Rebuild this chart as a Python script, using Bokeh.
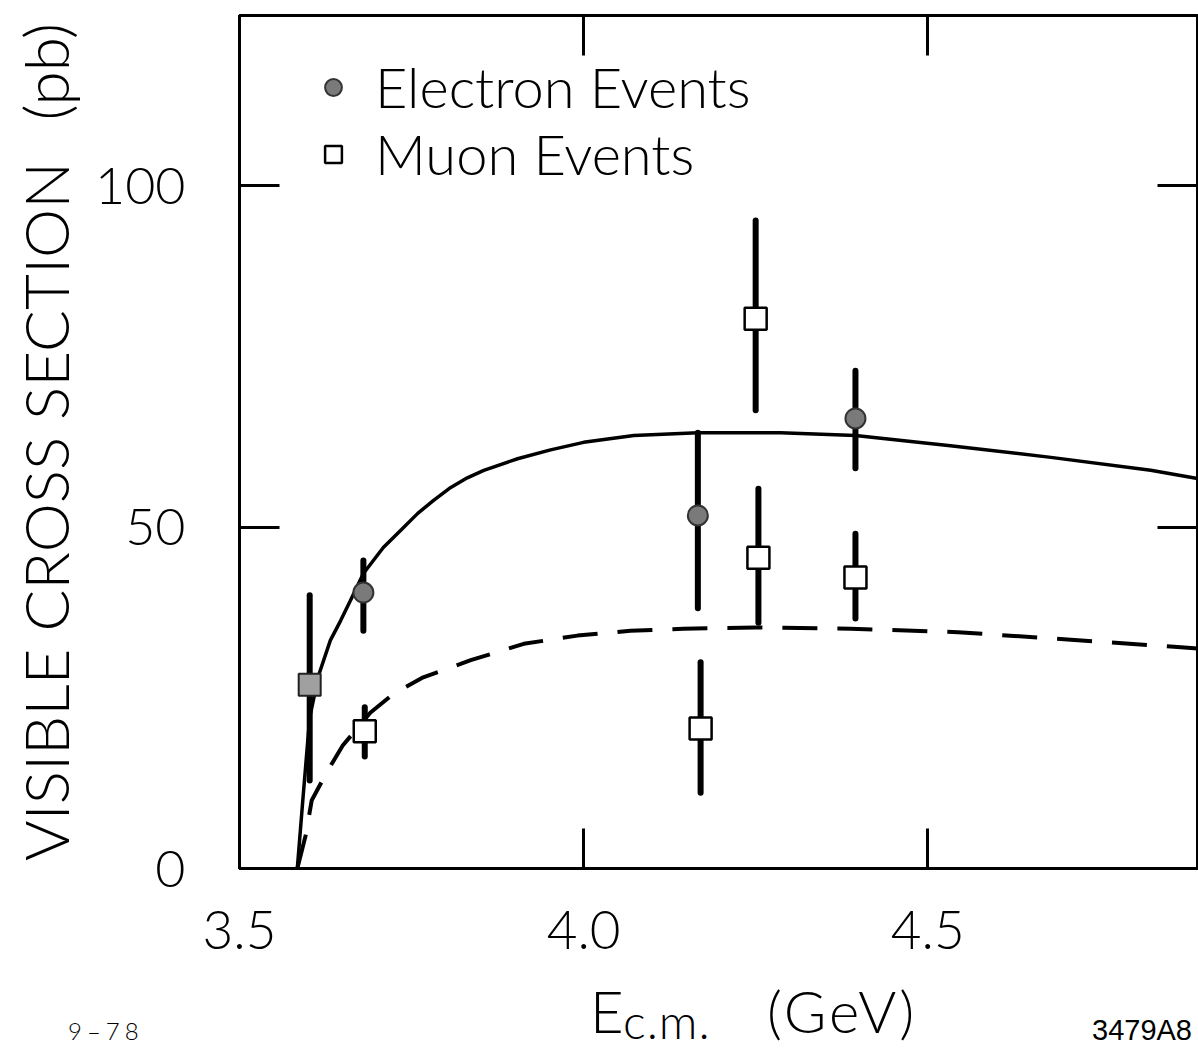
from bokeh.plotting import figure
from bokeh.layouts import column
from bokeh.models import Range1d, FixedTicker, LinearAxis, Legend, LegendItem, Div
from bokeh.embed import file_html
from bokeh.resources import INLINE

# ---- data ----
x_ticks = [3.5, 4.0, 4.5]
x_tick_labels = ["3.5", "4.0", "4.5"]
y_ticks = [0, 50, 100]
y_tick_labels = ["0", "50", "100"]

y_title = "VISIBLE CROSS SECTION\u00a0\u00a0\u2009(pb)"
x_title_parts = ["E", "c.m.", "(GeV)"]
notes = ["9\u201378", "3479A8"]

curve_solid_x = [3.584, 3.592, 3.602, 3.615, 3.632, 3.647, 3.661, 3.680, 3.709, 3.734,
                 3.759, 3.782, 3.807, 3.831, 3.855, 3.904, 3.952, 4.000, 4.073, 4.166,
                 4.286, 4.395, 4.533, 4.679, 4.824, 4.892]
curve_solid_y = [0.0, 10.0, 22.1, 28.3, 33.4, 36.3, 39.2, 43.2, 47.0, 49.5,
                 52.0, 53.9, 55.8, 57.2, 58.3, 60.0, 61.3, 62.4, 63.4, 63.8,
                 63.8, 63.4, 61.9, 60.2, 58.3, 57.1]

curve_dashed_x = [3.584, 3.596, 3.605, 3.628, 3.650, 3.690, 3.724, 3.767, 3.836, 3.913,
                  3.991, 4.068, 4.145, 4.250, 4.388, 4.544, 4.708, 4.868, 4.892]
curve_dashed_y = [0.0, 4.8, 10.0, 14.3, 18.0, 22.8, 25.6, 28.0, 30.5, 32.9,
                  34.1, 34.8, 35.1, 35.3, 35.1, 34.6, 33.5, 32.4, 32.2]

electron_x = [3.680, 4.166, 4.395]
electron_y = [40.4, 51.7, 65.9]
electron_lo = [34.8, 38.1, 58.6]
electron_hi = [45.1, 63.8, 72.9]

muon_x = [3.682, 4.170, 4.250, 4.254, 4.395]
muon_y = [20.1, 20.5, 80.5, 45.5, 42.6]
muon_lo = [16.4, 11.1, 67.1, 36.0, 36.6]
muon_hi = [23.6, 30.2, 94.9, 55.6, 49.0]

both_x = [3.602]
both_y = [26.9]
both_lo = [12.9]
both_hi = [40.0]

FONT = "Lato Light"

p = figure(width=1198, height=974,
           x_range=Range1d(3.5, 4.892), y_range=Range1d(0, 124.9),
           output_backend="svg", toolbar_location=None,
           min_border_left=239, min_border_right=1, min_border_top=15, min_border_bottom=106)
p.grid.visible = False
p.outline_line_color = "black"
p.outline_line_width = 3
p.background_fill_color = "white"
p.border_fill_color = "white"


def style_axis(ax, ticks, labels, size="52px"):
    ax.ticker = FixedTicker(ticks=ticks)
    ax.major_tick_in = 40
    ax.major_tick_out = 0
    ax.minor_tick_in = 0
    ax.minor_tick_out = 0
    ax.major_tick_line_width = 3
    ax.major_tick_line_color = "black"
    ax.axis_line_width = 3
    ax.axis_line_color = "black"
    ax.major_label_text_font = FONT
    ax.major_label_text_color = "black"
    ax.major_label_text_font_size = size
    ax.major_label_overrides = {t: l for t, l in zip(ticks, labels)}


style_axis(p.xaxis[0], x_ticks, x_tick_labels, "53px")
p.xaxis[0].major_label_standoff = 42
style_axis(p.yaxis[0], y_ticks, y_tick_labels)
p.yaxis[0].major_label_standoff = 54
p.yaxis[0].axis_label = y_title
p.yaxis[0].axis_label_text_font = FONT
p.yaxis[0].axis_label_text_font_size = "62px"
p.yaxis[0].axis_label_text_font_style = "normal"
p.yaxis[0].axis_label_text_color = "black"
p.yaxis[0].axis_label_standoff = 10

top_ax = LinearAxis()
style_axis(top_ax, x_ticks, ["" for _ in x_ticks])
top_ax.major_label_standoff = 0
p.add_layout(top_ax, "above")
right_ax = LinearAxis()
style_axis(right_ax, y_ticks, ["" for _ in y_ticks])
right_ax.major_label_standoff = 0
p.add_layout(right_ax, "right")

# curves
p.line(curve_solid_x, curve_solid_y, line_color="black", line_width=3.5)
p.line(curve_dashed_x, curve_dashed_y, line_color="black", line_width=4, line_dash="35 20")

# error bars
for xs, lo, hi in [(electron_x, electron_lo, electron_hi),
                   (muon_x, muon_lo, muon_hi),
                   (both_x, both_lo, both_hi)]:
    p.segment(x0=xs, y0=lo, x1=xs, y1=hi, line_color="black", line_width=6, line_cap="round")

r_both = p.scatter(both_x, both_y, marker="square", size=22, fill_color="#a0a0a0",
                   line_color="#222222", line_width=2)
r_el = p.scatter(electron_x, electron_y, marker="circle", size=20, fill_color="#7a7a7a",
                 line_color="#333333", line_width=2)
r_mu = p.scatter(muon_x, muon_y, marker="square", size=22, fill_color="white",
                 line_color="black", line_width=2.5)

legend = Legend(items=[LegendItem(label="Electron Events", renderers=[r_el]),
                       LegendItem(label="Muon Events", renderers=[r_mu])],
                location=(63, 671), glyph_width=42, glyph_height=42, spacing=0,
                label_text_font=FONT, label_text_font_size="56px", label_text_color="black",
                label_standoff=21, padding=10, border_line_alpha=0, background_fill_alpha=0)
p.add_layout(legend, "center")

# strip below the plot: x title (with subscript) and the figure notes
STRIP_H = 76


def span(text, left, baseline, size, family="'Lato Light', Lato, sans-serif",
         asc=0.987, spacing=0):
    top = baseline - asc * size
    return (f'<span style="position:absolute;left:{left}px;top:{top:.1f}px;'
            f'font-family:{family};font-size:{size}px;line-height:normal;'
            f'letter-spacing:{spacing}px;white-space:nowrap;color:black;">{text}</span>')


html = (f'<div style="position:relative;width:1198px;height:{STRIP_H}px;">'
        + span(x_title_parts[0], 590, 59, 58)
        + span(x_title_parts[1], 623, 65, 48, spacing=1)
        + span(x_title_parts[2], 767, 59, 58, spacing=3)
        + span(notes[0], 68, 66, 24, spacing=5)
        + span(notes[1], 1092, 66, 29,
               family="'Liberation Sans Narrow', 'Liberation Sans', sans-serif", asc=0.905)
        + '</div>')
strip = Div(text=html, width=1198, height=STRIP_H, margin=0)

layout = column(p, strip, spacing=0)
open("out.html", "w").write(file_html(layout, INLINE))
